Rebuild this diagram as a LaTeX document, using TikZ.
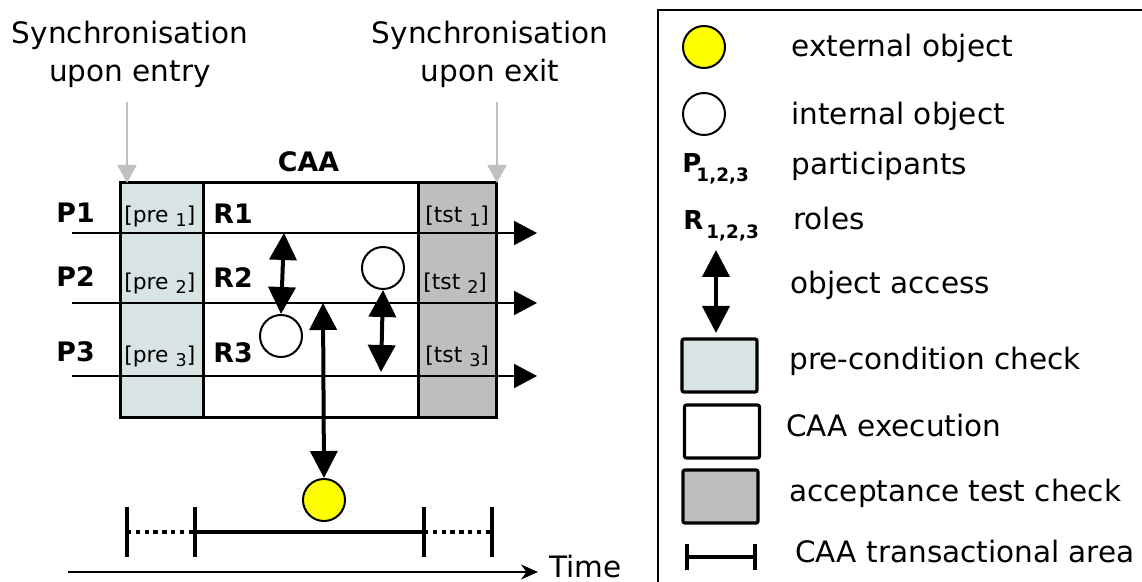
\documentclass[tikz,border=0pt]{standalone}
\usepackage{fontspec}
\setmainfont{DejaVu Sans}
\usetikzlibrary{arrows.meta}

\definecolor{precol}{HTML}{D8E4E4}
\definecolor{tstcol}{HTML}{BEBEBE}
\definecolor{syncgray}{HTML}{C0C0C0}
\definecolor{extyellow}{HTML}{FFFF00}

% lowered index used in the condition labels
\newcommand\condsub[1]{\lower2pt\hbox{\fontsize{8.8}{8.8}\selectfont #1}}
% lowered bold index used in the legend
\newcommand\legsub[2]{\kern#1\lower4.2pt\hbox{\fontsize{9.2}{9.2}\selectfont #2}}

\tikzset{
  lbl/.style={inner sep=0pt, anchor=base west},
  plaintext/.style={font=\fontsize{14.75}{19}\selectfont},
  boldtext/.style={font=\bfseries\fontsize{13.4}{15}\selectfont},
  condtext/.style={font=\fontsize{10.9}{12}\selectfont},
  column/.style={draw, line width=1.5pt, inner sep=0pt, minimum height=117.5pt},
  lifeline/.style={line width=1pt, -{Triangle[length=11.5pt,width=12pt]}},
  access/.style={line width=2pt,
    {Triangle[length=13.5pt,width=13.5pt]}-{Triangle[length=13.5pt,width=13.5pt]}},
  syncarrow/.style={draw=syncgray, line width=1pt, -{Triangle[length=9pt,width=9.5pt]}},
  intobj/.style={circle, draw, line width=1pt, fill=white, minimum size=21pt, inner sep=0pt},
  extobj/.style={intobj, fill=extyellow},
  tick/.style={line width=2.3pt},
  span/.style={line width=2pt},
  dotspan/.style={line width=2pt, dash pattern=on 2.2pt off 2.2pt},
  legbox/.style={draw, line width=1.6pt, rounded corners=1pt, inner sep=0pt,
    minimum width=37.5pt, minimum height=26.5pt},
}

\begin{document}
\begin{tikzpicture}[x=0.5pt, y=-0.5pt]
\useasboundingbox (0,0) rectangle (1142,582);

% ---------- synchronisation captions ----------
\node[plaintext, align=center, anchor=base, inner sep=0pt] (syncin) at (130,82)
  {Synchronisation\\upon entry};
\node[plaintext, align=center, anchor=base, inner sep=0pt] (syncout) at (490,82)
  {Synchronisation\\upon exit};

% ---------- CAA block ----------
\node[column, fill=precol, minimum width=41.5pt] (pre) at (161.5,300.5) {};
\node[column, fill=white, minimum width=107.5pt] (exec) at (310.5,300.5) {};
\node[column, fill=tstcol, minimum width=39pt] (tst) at (457,300.5) {};
\node[boldtext, inner sep=0pt, anchor=base] (caa) at (308.5,172) {CAA};

\coordinate (syncin-top) at (127,102);
\coordinate (syncin-end) at (127,183);
\coordinate (syncout-top) at (497,102);
\coordinate (syncout-end) at (497,183);
\draw[syncarrow] (syncin-top) -- (syncin-end);
\draw[syncarrow] (syncout-top) -- (syncout-end);

% participant lines
\coordinate (p1s) at (72,233);  \coordinate (p1e) at (537,233);
\coordinate (p2s) at (72,303);  \coordinate (p2e) at (537,303);
\coordinate (p3s) at (72,376);  \coordinate (p3e) at (537,376);
\draw[lifeline] (p1s) -- (p1e);
\draw[lifeline] (p2s) -- (p2e);
\draw[lifeline] (p3s) -- (p3e);

% participant, role and condition labels
\node[boldtext, lbl] (P1) at (56,223) {P1};
\node[boldtext, lbl] (P2) at (56,287) {P2};
\node[boldtext, lbl] (P3) at (56,362) {P3};
\node[boldtext, lbl] (R1) at (213,224) {R1};
\node[boldtext, lbl] (R2) at (213,288) {R2};
\node[boldtext, lbl] (R3) at (213,363) {R3};
\node[condtext, lbl] (pre1) at (124,223) {[pre \condsub{1}]};
\node[condtext, lbl] (pre2) at (124,290) {[pre \condsub{2}]};
\node[condtext, lbl] (pre3) at (124,363) {[pre \condsub{3}]};
\node[condtext, lbl] (tst1) at (425,223) {[tst \condsub{1}]};
\node[condtext, lbl] (tst2) at (423,290) {[tst \condsub{2}]};
\node[condtext, lbl] (tst3) at (425,363) {[tst \condsub{3}]};

% objects and accesses
\node[intobj] (in1) at (281,336) {};
\node[intobj] (in2) at (383,268) {};
\node[extobj] (ext) at (324,500) {};
\coordinate (acc1) at (284,233);
\coordinate (acc2) at (381,372);
\coordinate (acc3) at (323,303);
\draw[access] (in1.north) -- (acc1);
\draw[access] (in2.south) -- (acc2);
\draw[access] (ext.north) -- (acc3);

% ---------- transactional area on the time line ----------
\coordinate (t1) at (127,532);
\coordinate (t2) at (195,532);
\coordinate (t3) at (424,532);
\coordinate (t4) at (492,532);
\draw[dotspan] (t1) -- (t2);
\draw[span] (t2) -- (t3);
\draw[dotspan] (t3) -- (t4);
\foreach \t in {t1,t2,t3,t4}
  \draw[tick] (\t) ++(0,-25) -- ++(0,50);

\coordinate (time-s) at (68,572);
\coordinate (time-e) at (538,572);
\draw[line width=1pt, -{Stealth[length=8.5pt,width=7.5pt]}] (time-s) -- (time-e);
\node[plaintext, lbl] (time) at (549,578) {Time};

% ---------- legend ----------
\coordinate (leg-tr) at (1150,10);
\coordinate (leg-tl) at (658,10);
\coordinate (leg-bl) at (658,590);
\draw[line width=1.1pt] (leg-tr) -- (leg-tl) -- (leg-bl);

\node[extobj] (lg-ext) at (704,47) {};
\node[plaintext, lbl] (lg-ext-t) at (791,57) {external object};

\node[intobj] (lg-int) at (704,114) {};
\node[plaintext, lbl] (lg-int-t) at (791,125) {internal object};

\node[lbl, font=\bfseries\fontsize{13}{15}\selectfont] (lg-p) at (682,173)
  {P\legsub{-2.5pt}{1,2,3}};
\node[plaintext, lbl] (lg-p-t) at (791,175) {participants};

\node[lbl, font=\bfseries\fontsize{13}{15}\selectfont] (lg-r) at (683,230)
  {R\legsub{1.5pt}{1,2,3}};
\node[plaintext, lbl] (lg-r-t) at (793,230) {roles};

\coordinate (lg-acc-top) at (716,250);
\coordinate (lg-acc-bot) at (716,333);
\draw[access] (lg-acc-top) -- (lg-acc-bot);
\node[plaintext, lbl] (lg-acc-t) at (790,294) {object access};

\node[legbox, fill=precol] (lg-pre) at (719.5,365.5) {};
\node[plaintext, lbl] (lg-pre-t) at (789,370) {pre-condition check};

\node[legbox, fill=white] (lg-exec) at (722,431.5) {};
\node[plaintext, lbl] (lg-exec-t) at (786,437) {CAA execution};

\node[legbox, fill=tstcol] (lg-tst) at (720.5,496.5) {};
\node[plaintext, lbl] (lg-tst-t) at (789,502) {acceptance test check};

\coordinate (lg-span-l) at (687,557);
\coordinate (lg-span-r) at (755,557);
\draw[span] (lg-span-l) -- (lg-span-r);
\draw[tick] (lg-span-l) ++(0,-13) -- ++(0,26);
\draw[tick] (lg-span-r) ++(0,-13) -- ++(0,26);
\node[plaintext, lbl] (lg-span-t) at (795,563) {CAA transactional area};
\end{tikzpicture}
\end{document}
